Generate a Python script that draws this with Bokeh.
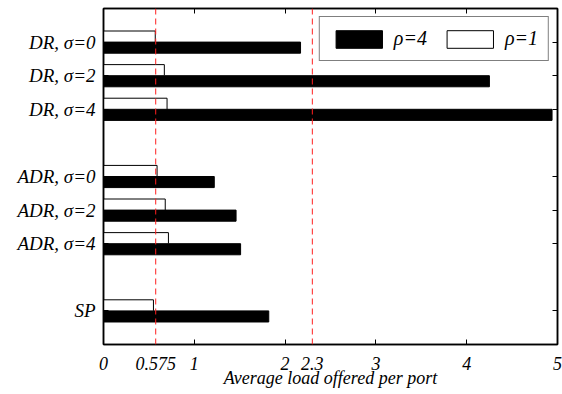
from bokeh.plotting import figure
from bokeh.models import (ColumnDataSource, Range1d, LinearAxis, FixedTicker,
                          Span, Legend, LegendItem)
from bokeh.transform import dodge
from bokeh.embed import file_html
from bokeh.resources import INLINE

# Schemes, grouped; an empty slot separates consecutive groups
groups = [
    ["DR, σ=0", "DR, σ=2", "DR, σ=4"],
    ["ADR, σ=0", "ADR, σ=2", "ADR, σ=4"],
    ["SP"],
]
# Average load offered per port for each scheme
load_rho4 = [2.17, 4.25, 4.94, 1.22, 1.46, 1.51, 1.82]
load_rho1 = [0.57, 0.67, 0.70, 0.59, 0.68, 0.715, 0.55]
thresholds = [0.575, 2.3]
x_tick_values = [0, 0.575, 1, 2, 2.3, 3, 4, 5]
x_tick_labels = ["0", "0.575", "1", "2", "2.3", "3", "4", "5"]

FONT = "Liberation Serif"
FS = "18px"

labels, slots = [], []
slot = 1
for g in groups:
    for name in g:
        labels.append(name)
        slots.append(slot)
        slot += 1
    slot += 1
y_end = slot - 1

src = ColumnDataSource(dict(slot=slots, rho4=load_rho4, rho1=load_rho1))

p = figure(width=562, height=394, x_range=Range1d(0, 5), y_range=Range1d(y_end, 0),
           x_axis_type=None, y_axis_type=None,
           output_backend="svg", toolbar_location=None,
           min_border_left=103, min_border_right=5, min_border_top=8,
           min_border_bottom=50)
p.outline_line_color = "black"
p.outline_line_width = 1.5
p.background_fill_color = "white"
p.border_fill_color = "white"

bh = 0.33
r4 = p.hbar(y=dodge("slot", bh / 2), left=0, right="rho4", height=bh,
            fill_color="black", line_color="black", line_width=1, source=src)
r1 = p.hbar(y=dodge("slot", -bh / 2), left=0, right="rho1", height=bh,
            fill_color="white", line_color="black", line_width=1, source=src)

for t in thresholds:
    p.add_layout(Span(location=t, dimension="height", line_color="#ff2020",
                      line_dash="6 4", line_width=1))


def tick_axis(ticks):
    # inward ticks only; labels blanked out and taking no room
    return LinearAxis(ticker=FixedTicker(ticks=ticks), major_tick_in=5,
                      major_tick_out=0, minor_tick_line_color=None,
                      axis_line_width=1.5, major_tick_line_color="black",
                      axis_line_color="black", major_label_standoff=0,
                      major_label_text_font_size="0px",
                      major_label_overrides={t: "" for t in ticks})


# left axis carries the scheme names
left = tick_axis(slots)
left.major_label_overrides = {s: l for s, l in zip(slots, labels)}
left.major_label_text_font_size = "19px"
left.major_label_text_font = FONT
left.major_label_text_font_style = "italic"
left.major_label_text_color = "black"
left.major_label_standoff = 8
p.add_layout(left, "left")

p.add_layout(tick_axis(slots), "right")
p.add_layout(tick_axis([0, 1, 2, 3, 4, 5]), "above")
p.add_layout(tick_axis([0, 1, 2, 3, 4, 5]), "below")

# bottom labels, including the two threshold values
xl = LinearAxis(ticker=FixedTicker(ticks=x_tick_values),
                major_label_overrides={v: s for v, s in zip(x_tick_values, x_tick_labels)},
                axis_line_color=None, major_tick_line_color=None,
                minor_tick_line_color=None, major_tick_in=0, major_tick_out=0,
                major_label_standoff=12, major_label_text_font=FONT,
                major_label_text_font_style="italic", major_label_text_font_size=FS,
                major_label_text_color="black",
                axis_label="Average load offered per port",
                axis_label_text_font=FONT, axis_label_text_font_style="italic",
                axis_label_text_font_size=FS, axis_label_text_color="black",
                axis_label_standoff=-5)
p.add_layout(xl, "below")

legend = Legend(items=[LegendItem(label="ρ=4", renderers=[r4]),
                       LegendItem(label="ρ=1", renderers=[r1])],
                orientation="horizontal", location="top_right",
                glyph_width=58, glyph_height=22, label_standoff=6, spacing=14,
                padding=10, margin=8, border_line_color="black",
                border_line_width=1.5, label_text_font=FONT,
                label_text_font_style="italic", label_text_font_size="20px",
                label_text_color="black", background_fill_alpha=1)
p.add_layout(legend)

open("out.html", "w").write(file_html(p, INLINE))
